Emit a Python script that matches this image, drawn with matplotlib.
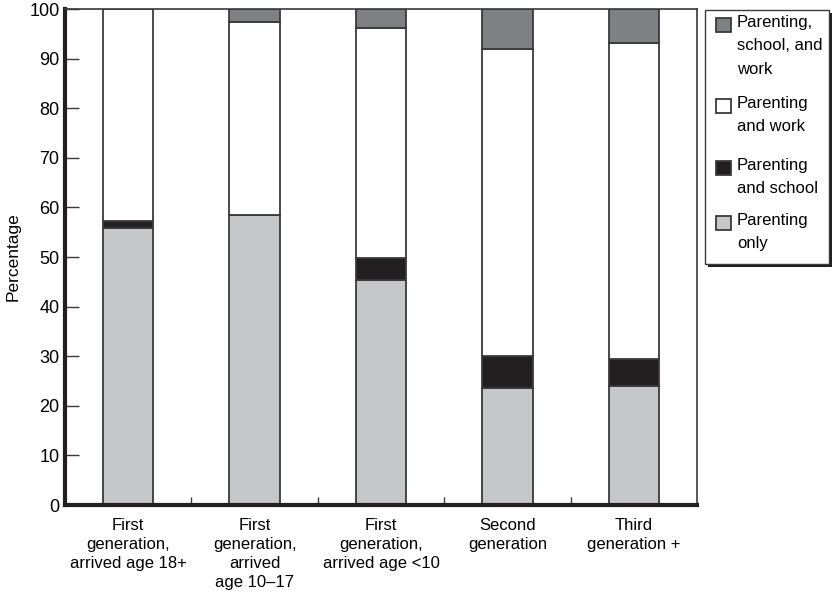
import matplotlib
matplotlib.use("Agg")
import matplotlib.pyplot as plt
import numpy as np
from matplotlib.patches import Rectangle

plt.rcParams['font.family'] = ['Liberation Sans', 'DejaVu Sans']

categories = ["First\ngeneration,\narrived age 18+",
              "First\ngeneration,\narrived\nage 10\u201317",
              "First\ngeneration,\narrived age <10",
              "Second\ngeneration",
              "Third\ngeneration +"]
parenting_only = [55.9, 58.4, 45.4, 23.6, 23.9]
parenting_school = [1.3, 0.0, 4.4, 6.5, 5.6]
parenting_work = [42.8, 39.0, 46.4, 61.8, 63.6]
parenting_school_work = [0.0, 2.6, 3.8, 8.1, 6.9]

series = [
    ("Parenting\nonly", parenting_only, "#c6c7c9"),
    ("Parenting\nand school", parenting_school, "#231f20"),
    ("Parenting\nand work", parenting_work, "#ffffff"),
    ("Parenting,\nschool, and\nwork", parenting_school_work, "#7f8084"),
]
EDGE = "#3a3a3a"

fig = plt.figure(figsize=(8.34, 6.0), dpi=100)
ax = fig.add_axes([65/834, 1-505/600, (697-65)/834, (505-9)/600])

x = np.arange(len(categories))
bottom = np.zeros(len(categories))
for label, vals, color in series:
    vals = np.array(vals)
    ax.bar(x, vals, width=0.4, bottom=bottom, color=color,
           edgecolor=EDGE, linewidth=1.3, label=label, zorder=2)
    bottom += vals

ax.set_xlim(-0.5, 4.5)
ax.set_ylim(0, 100)
ax.set_yticks(np.arange(0, 101, 10))
ax.set_xticks(x)
ax.set_xticklabels(categories, fontsize=12, linespacing=1.35)
ax.set_xticks(np.arange(0.5, 4.5, 1.0), minor=True)
ax.tick_params(axis='x', which='major', length=0, pad=9)
ax.tick_params(axis='x', which='minor', direction='in', length=6, width=1, color=EDGE)
ax.tick_params(axis='y', direction='in', length=10, width=1, labelsize=13, color=EDGE, pad=4)
ax.set_ylabel("Percentage", fontsize=12.5, labelpad=6)

for s in ['left', 'bottom']:
    ax.spines[s].set_linewidth(3)
    ax.spines[s].set_color("#231f20")
for s in ['top', 'right']:
    ax.spines[s].set_linewidth(1.2)
    ax.spines[s].set_color(EDGE)

# Legend drawn manually (handles aligned with first text line)
lax = fig.add_axes([0, 0, 1, 1], zorder=5)
lax.set_xlim(0, 834)
lax.set_ylim(600, 0)
lax.axis('off')
lax.add_patch(Rectangle((708, 13), 124, 254, facecolor="#231f20", edgecolor='none'))
lax.add_patch(Rectangle((705, 10), 124, 254, facecolor="white", edgecolor=EDGE, linewidth=1.0))
entry_tops = [18, 99, 161, 216]
for (label, vals, color), top in zip(series[::-1], entry_tops):
    lax.add_patch(Rectangle((716, top), 15, 14, facecolor=color, edgecolor=EDGE, linewidth=1.3))
    lax.text(737, top - 3, label, fontsize=12, va='top', ha='left', linespacing=1.7)

fig.savefig("out.png", dpi=100)
